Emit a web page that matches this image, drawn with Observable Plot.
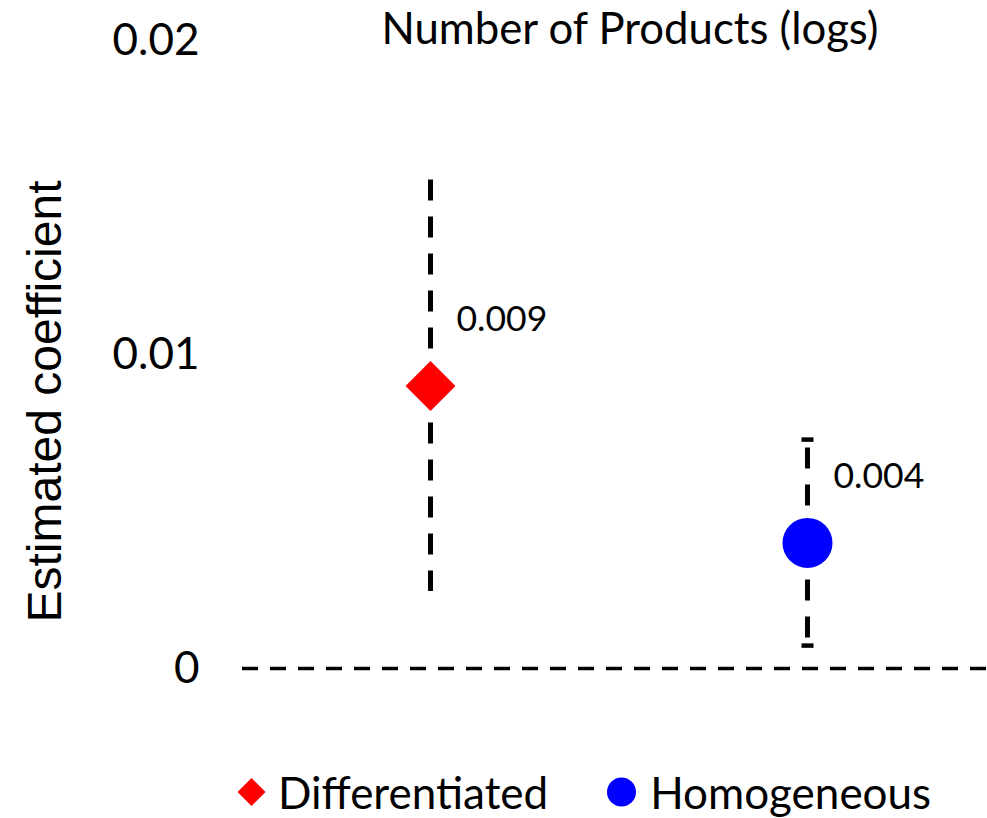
<!DOCTYPE html>
<html>
<head>
<meta charset="utf-8">
<script src="https://cdn.jsdelivr.net/npm/d3@7"></script>
<script src="https://cdn.jsdelivr.net/npm/@observablehq/plot@0.6"></script>
<style>
  html, body { margin: 0; padding: 0; background: #fff; }
  #chart { width: 987px; height: 740px; }
  #chart svg { display: block; }
  #legend {
    width: 987px; height: 78px; box-sizing: border-box; padding-top: 26px;
    display: flex; align-items: center; font-family: Lato, sans-serif; font-size: 44px; color: #000;
  }
  #legend .item { display: flex; align-items: center; height: 40px; line-height: 40px; }
  #legend svg { display: block; }
</style>
</head>
<body>
<div id="chart"></div>
<div id="legend"></div>
<script>
// ---- data ----
const groups = ["Differentiated", "Homogeneous"];
const estimates = [0.009, 0.004];
const upperBounds = [0.01557, 0.00729];
const lowerBounds = [0.00245, 0.00073];
const pointLabels = ["0.009", "0.004"];
const cappedGroups = ["Homogeneous"];
const yTicks = [0, 0.01, 0.02];
const yTickLabels = ["0", "0.01", "0.02"];
const titleText = "Number of Products (logs)";
const yLabelText = "Estimated coefficient";

// ---- styles ----
const colors = { Differentiated: "#ff0000", Homogeneous: "#0000ff" };
const radii = { Differentiated: 22.5, Homogeneous: 25 };

const rows = groups.map((g, i) => ({
  group: g, est: estimates[i], hi: upperBounds[i], lo: lowerBounds[i], label: pointLabels[i]
}));
const capRows = rows.filter(d => cappedGroups.includes(d.group));

const capSymbol = {
  draw(context) { context.moveTo(-6, 0); context.lineTo(6, 0); }
};

const chart = Plot.plot({
  width: 987,
  height: 740,
  marginTop: 40,
  marginBottom: 72,
  marginLeft: 242,
  marginRight: 0,
  style: { background: "#fff", color: "#000" },
  x: { type: "point", domain: groups, range: [430, 807], padding: 0, axis: null },
  y: { domain: [0, 0.02], axis: null },
  marks: [
    Plot.axisY({
      ticks: yTicks,
      tickFormat: (d) => yTickLabels[yTicks.indexOf(d)],
      tickSize: 0,
      tickPadding: 43,
      label: null,
      fontSize: 44,
      fontFamily: "Lato",
      fill: "#000"
    }),
    Plot.ruleY([0], { stroke: "#000", strokeWidth: 3.5, strokeDasharray: "16,12" }),
    Plot.ruleX(rows, { x: "group", y1: "est", y2: "hi", stroke: "#000", strokeWidth: 5, strokeDasharray: "21,16" }),
    Plot.ruleX(rows, { x: "group", y1: "est", y2: "lo", stroke: "#000", strokeWidth: 5, strokeDasharray: "21,16" }),
    Plot.dot(capRows, { x: "group", y: "hi", symbol: capSymbol, stroke: "#000", strokeWidth: 4.5, fill: "none" }),
    Plot.dot(capRows, { x: "group", y: "lo", symbol: capSymbol, stroke: "#000", strokeWidth: 4.5, fill: "none" }),
    Plot.dot(rows.filter(d => d.group === "Differentiated"), {
      x: "group", y: "est", symbol: "diamond2", r: radii.Differentiated, fill: colors.Differentiated, stroke: "none"
    }),
    Plot.dot(rows.filter(d => d.group === "Homogeneous"), {
      x: "group", y: "est", symbol: "circle", r: radii.Homogeneous, fill: colors.Homogeneous, stroke: "none"
    }),
    Plot.text(rows, {
      x: "group", y: "est", text: "label", textAnchor: "start", lineAnchor: "middle",
      dx: 26, dy: -66, fontSize: 35.5, fontFamily: "Lato", fill: "#000"
    }),
    Plot.text([titleText], {
      frameAnchor: "top", lineAnchor: "middle", textAnchor: "middle",
      dx: 15, dy: -10, fontSize: 43.7, fontFamily: "Lato", fill: "#000"
    }),
    Plot.text([yLabelText], {
      frameAnchor: "left", rotate: -90, lineAnchor: "middle", textAnchor: "middle",
      dx: -197, dy: 47, fontSize: 48, fontFamily: "Liberation Sans", fill: "#000"
    })
  ]
});
chart.style.display = "block";
document.getElementById("chart").appendChild(chart);

// ---- legend ----
const legend = document.getElementById("legend");
legend.style.paddingLeft = "237px";
const legendItems = [
  { name: groups[0], shape: "diamond", gapAfter: 59 },
  { name: groups[1], shape: "circle", gapAfter: 0 }
];
legendItems.forEach(it => {
  const item = document.createElement("div");
  item.className = "item";
  item.style.marginRight = it.gapAfter + "px";
  const ns = "http://www.w3.org/2000/svg";
  const svg = document.createElementNS(ns, "svg");
  svg.setAttribute("width", 29);
  svg.setAttribute("height", 30);
  let shape;
  if (it.shape === "diamond") {
    shape = document.createElementNS(ns, "polygon");
    shape.setAttribute("points", "14.5,1 28.5,15 14.5,29 0.5,15");
  } else {
    shape = document.createElementNS(ns, "ellipse");
    shape.setAttribute("cx", 14.5); shape.setAttribute("cy", 15);
    shape.setAttribute("rx", 14.5); shape.setAttribute("ry", 14.5);
  }
  shape.setAttribute("fill", colors[it.name]);
  svg.appendChild(shape);
  svg.style.marginRight = it.shape === "diamond" ? "12px" : "14px";
  const span = document.createElement("span");
  span.textContent = it.name;
  item.appendChild(svg);
  item.appendChild(span);
  legend.appendChild(item);
});
</script>
</body>
</html>
